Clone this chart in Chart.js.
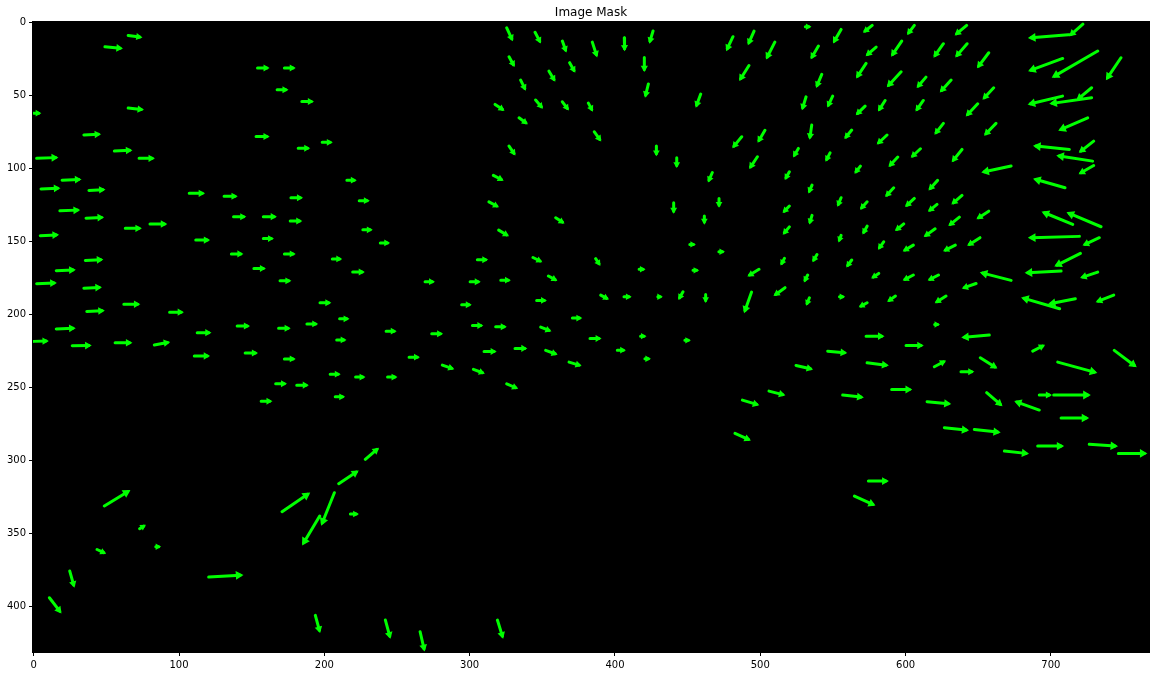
<!DOCTYPE html>
<html>
<head>
<meta charset="utf-8">
<script src="https://cdn.jsdelivr.net/npm/chart.js@4/dist/chart.umd.min.js"></script>
<style>
html,body{margin:0;padding:0;background:#fff;}
#wrap{width:1156px;height:675px;position:relative;}
</style>
</head>
<body>
<div id="wrap"><canvas id="c" width="1156" height="675"></canvas></div>
<script>
// Image size (pixels) and tick labels
const imageWidth = 768;
const imageHeight = 432;
const xTickValues = [0, 100, 200, 300, 400, 500, 600, 700];
const yTickValues = [0, 50, 100, 150, 200, 250, 300, 350, 400];
const chartTitle = 'Image Mask';

// Flow arrows: [tailX, tailY, headX, headY] in image pixel coordinates
const leftArrows = [
  [65,8.7,73,9.8],[49,16.5,59.5,17.5],[154,31,160.5,31],[172.5,31,178.5,31],
  [167.5,46,173.5,46],[184.5,54,191,54],[65,58.5,74,59.5],[0,62,3.5,62],
  [34.5,77,44.5,76.5],[153,78,160.5,78],[198.5,82,204,82],[182,86,188.5,86],
  [55.5,88,66,87.5],[2,93,15,92.5],[72.5,93,81.5,93],[215.5,108,220.5,108],
  [19.5,108,31,107.5],[5,114,16.5,113.5],[38,115,47.5,114.5],[107,117,116,117],
  [131,119,138.5,119],[177,120,183.5,120],[224,122,229.5,122],[18,129,30,128.5],
  [36,134,46.5,133.5],[137.5,133,144.5,133],[158,133,165.5,133],[176.5,136,183,136],
  [63,141,72.5,141],[80,138,90,138],[226.5,142,231.5,142],
  [4.5,146,15.5,145.5],[111.5,149,119.5,149],[158,148,163.5,148],[238.5,151,243.5,151],
  [35.5,163,46,162.5],[136,158.5,142.5,158.5],[172.5,158.5,178.5,158.5],[205.5,162,210.5,162],
  [15.5,170,27,169.5],[151.5,168.5,158,168.5],[219.5,171,226,171],[2,179,14,178.5],
  [34.5,182,45,181.5],[169.5,177,175.5,177],[62,193,71.5,193],[197,192,203,192],
  [93.5,198.5,101.5,198.5],[36.5,198,47,197.5],[210.5,203,215.5,203],[15.5,210,27,209.5],
  [140,208,147,208],[168.5,209.5,175,209.5],[188,206.5,194,206.5],[112.5,212.5,120.5,212.5],
  [242.5,211.5,248,211.5],[0,218.5,8.5,218.3],[26.5,221.5,38,221.3],[56,219.5,66,219.5],
  [83,221,92,219.3],[208.5,217.5,213.5,217.5],[110.5,228.5,119.5,228.5],[145.5,226.5,152.5,226.5],
  [172.5,230.5,178.5,230.5],[204,241,209.5,241],[221.5,243,226.5,243],[243.5,243,248.5,243],
  [166.5,247.5,172.5,247.5],[181,248.5,187.5,248.5],[207.5,256.5,212.5,256.5],[156.5,259.5,162.5,259.5]
];

const topArrows = [
  [325.5,3.5,329,11],[345,6.5,348.2,12.6],[363.8,12.6,366,18.7],[384.4,13.3,387.2,22],
  [406.4,10.3,406.6,17.8],[426.2,5.7,424.1,12.6],[481.2,9.6,477.3,17.8],[495.7,5.7,492.2,13.7],
  [510,13.3,504.8,23.5],[327.1,23.3,330.1,28.8],[368.8,27.4,371.8,32.7],[420.2,23.8,420.2,32],
  [492.2,29.3,486.5,38.4],[354.6,33.2,358,38.9],[335.1,39.3,337.9,45],[423,42,421.1,49.6],
  [459,48.9,456.2,56.5],[317.5,56,322.5,59.4],[345.4,53,349.3,57.6],[363.8,54.2,367.2,58.8],
  [381.7,55.1,384,59.4],[334,65.2,338.6,68.6],[385.8,74.8,389.5,80],[487.2,78.2,481.9,84.6],
  [503.2,73.8,499.1,80.7],[498,91.9,493.4,98.8],[327.1,84.6,330.5,89.6],[428.5,84.6,428.5,89.8],
  [442.5,92.6,442.5,97.9],[467,102.7,464.7,107.9],[316.3,104.7,321.8,107.5],[313.3,122.8,318.6,125.7],
  [440.4,123.5,440.4,129.2],[471.6,120.5,471.6,125.1],[461.5,132.6,461.5,136.7],[359.2,133.7,363.8,136.7],
  [320,142.2,325.5,145.5]
];

const centerArrows = [
  [305.3,162.5,311,162.5],[343.6,161,348.4,163.4],[386.7,161.8,389,165.3],[451.5,152,454,152],
  [471.5,157,474,157],[416.6,169.1,419.3,169.1],[453.7,169.8,456.2,169.8],[499.1,169.1,492.7,173],
  [269.3,177.6,274.3,177.6],[300.3,177.6,305.8,177.6],[321.4,176.5,326.6,176.5],[354.2,173.7,358.8,176.2],
  [390.2,186.8,394.3,189],[406.2,187.9,409.7,187.9],[429.5,187.9,431.2,187.9],[446.8,184.5,444.5,188.6],
  [462.4,186.3,462.4,190.4],[494,184.7,489.5,197.3],[517,181.7,510.6,186.3],[294.5,193.4,299.6,193.4],
  [346.1,190.4,351.4,190.4],[370.7,202.5,375.7,202.5],[301.9,207.6,307.6,207.6],[317.9,208.5,323.7,208.5],
  [348.9,208.7,354.6,211],[273.9,213.3,279.9,213.3],[382.8,216.5,389,216.5],[417.6,214.9,420,214.9],
  [448.1,217.8,450.5,217.8],[258.3,229.3,264,229.3],[309.9,225.4,316.8,225.4],[331.2,223.3,337.9,223.3],
  [352.3,224.7,358.8,227],[401.6,224.5,405.8,224.5],[420.6,230.4,423,230.4],[281.2,234.8,287.7,237],
  [302.6,237.7,308.8,240],[368.4,232.7,375.3,234.8],[325.5,247.6,331.7,250.3],[506,252.6,515.4,255],
  [487.7,258.8,497.5,261.7],[482.6,281.6,491.8,285.7]
];

const rightArrows = [
  [531,2.7,533.5,2.7],[555.6,4.6,551,12.6],[577,1.8,572.1,5.7],[606,1.8,602.1,6.9],
  [642,1.8,635.2,7.5],[722,1,714,8],[714,8,686.3,10.3],[540,16,535.6,23.5],
  [579.7,16.7,573.9,21.7],[597.3,12.6,591.1,21.7],[626,14.4,620.3,22.4],[642.3,14.4,635.4,22.4],
  [657.2,20.6,650.3,29.7],[708.1,24.5,686.3,32.5],[732.2,19.4,702.4,36.6],[748.2,24,739,37.7],
  [572.8,27.9,567,36.6],[596.9,33.6,588.4,42.8],[614,37.3,608.8,43.4],[631.3,39.3,624.8,46.4],
  [542.3,35.4,539.1,43],[660.6,44.6,654.2,51.4],[649.6,55.6,642.7,62.9],[708,50.3,686,55.6],
  [728,51.4,701,55.3],[728,44.6,719,52],[531.5,50.8,529.2,58.3],[549.8,50.3,546.9,56.5],
  [572.1,57.2,567,62.2],[585.9,53.3,582,59.4],[612.2,53.3,607.9,59.4],[725.3,65.2,707,73.2],
  [535.4,70.2,534.2,78.4],[562.9,73.6,559,78.4],[587.2,77,581.5,82.3],[626,69,621,75.4],
  [662.2,69,655.3,76.1],[526.2,86.2,523.5,90.8],[548,89.2,545.7,93.7],[610.2,86.4,604.9,91.4],
  [638.8,86.9,632.9,94.2],[594.6,92.1,589.5,97.6],[672.6,98.3,654.2,102.2],[712.7,86.9,689.8,84.6],
  [728.7,94.9,705.8,91.4],[729.4,97.9,720.7,102.9],[729.4,81.2,720.7,88],[568.9,98.3,565.9,102.2],
  [520,102.2,517.7,106.3],[709.7,113.2,689.8,107.5],[622,108.1,617,113.6],[591.8,113.2,587.2,118.2],
  [535.6,111.3,533.8,115.5],[555.6,120,553.7,124.6],[573.5,122.8,569.8,126.9],[606,120.5,601,125.1],
  [621.6,124.6,616.8,128.5],[638.8,118.4,632.9,123.5],[520,125.7,516.6,129.2],[734.5,139.9,712.7,130.8],
  [715,138.3,695.5,130.3],[657.2,129.2,650.3,133.7],[637,133.3,630.8,138.3],[598.7,137.9,594.1,141.7],
  [573.5,139.5,571.2,143.6],[535.6,132.1,534.2,136.7],[620.3,141.3,614,145.8],[520,140,516.6,144],
  [719.6,146.5,686.3,147.4],[733.3,147.4,723.5,152],[555.6,145.8,554.4,149],[584.9,150.2,582,154.3],
  [605.3,152.5,599.6,155.9],[634.2,152.5,627.4,155.9],[651.2,147.4,643.9,152],[516.6,161.6,514.8,165],
  [539,158.9,536.8,162.7],[562.9,162.7,560.2,166.4],[720.3,158.2,704.2,166.2],[707,170.3,684,171.4],
  [672.6,176.7,653.1,171.7],[732.2,171,721.9,174.4],[532.6,173,530.8,176.5],[581.5,171.9,577.8,174.4],
  [605.3,173,599.6,176],[622.6,173,616.8,176],[648.5,178.8,640.4,181.7],[533.8,188.6,532.2,192.5],
  [554.5,187.9,556.7,187.9],[573.5,192,569.3,194.3],[593,187.4,588.8,190.4],[627.8,187.4,621.6,191.3],
  [743.2,186.8,732.6,190.9],[706,196.1,681.5,189],[716.8,189.3,700.1,192.5],[620,206.9,622,206.9],
  [572.8,214.9,583.6,214.9],[657.6,214.2,640.4,215.6],[600.3,221.3,610.6,221.3],[687.5,225.2,694.3,221.7],
  [546.4,225.2,557.9,226.3],[524.6,235,534.5,237.3],[573.5,233.2,586.5,234.8],[619.8,235.9,626.2,232.5],
  [651.4,229.7,661.5,236.1],[638.1,239.3,645.5,239.3],[704.7,232.7,729.9,239.6],[743.6,224.7,757.4,235],
  [556.7,255.3,569.3,256.7],[590.4,251.5,602.6,251.5],[614.8,259.9,629.4,261.3],[655.8,253.7,665.2,261.7],
  [692,265.6,676.7,260.1],[692,255.3,698.9,255.3],[701.9,255.3,725.3,255.3],[707,271.1,724.2,271.1],
  [626.7,277.7,641.6,279.3],[647.3,278.9,663.4,280.7],[668,293.7,682.9,295.3],[690.9,290.3,707,290.3],
  [726.4,289.1,744.1,290.3],[746.4,295.3,764.3,295.3],[574.4,314.3,586.5,314.3],[564.8,324.6,577.4,330.3]
];

const bottomArrows = [
  [228.2,299.4,236.2,292.6],[48.6,331.4,64.7,321.6],[209.9,316.1,222,308.1],[170.9,335.3,188.5,323.4],
  [196.8,338.3,185.8,356.6],[206.9,322.3,198.6,342.9],[217.9,336.9,222,336.9],[72.9,347,75.7,345.2],
  [84,359.3,86,359.3],[43.6,361.2,48.2,363.4],[120.4,380.1,142.2,378.8],[24.8,376,27.5,385.6],
  [10.8,394.3,17.9,403.5],[193.8,406.4,196.6,416.7],[242,409.6,245,420.6],[265.9,417.6,268.6,429.3],
  [319.1,409.6,322.5,420.6]
];

const allArrows = [].concat(leftArrows, topArrows, centerArrows, rightArrows, bottomArrows);

// Build line data (segments separated by gaps) and head points
const lineData = [];
const headData = [];
allArrows.forEach(a => {
  const dx = a[2] - a[0], dy = a[3] - a[1];
  const len = Math.hypot(dx, dy) || 1;
  const r = 2.0 + Math.min(1.6, len / 12);       // head radius in screen px
  const back = (r * 0.55) / 1.455;                // pull triangle back so its tip sits on the head point
  lineData.push({x: a[0], y: a[1]});
  lineData.push({x: a[2], y: a[3]});
  lineData.push({x: a[2], y: null});
  headData.push({x: a[2] - dx / len * back, y: a[3] - dy / len * back, dx: dx, dy: dy, r: r});
});

const GREEN = '#00ff00';

const framePlugin = {
  id: 'frame',
  beforeDraw(chart) {
    const {ctx, chartArea: ca} = chart;
    ctx.save();
    ctx.fillStyle = '#ffffff';
    ctx.fillRect(0, 0, chart.width, chart.height);
    ctx.fillStyle = '#000000';
    ctx.fillRect(ca.left, ca.top, ca.right - ca.left, ca.bottom - ca.top);
    ctx.restore();
  },
  afterDraw(chart) {
    const {ctx, chartArea: ca} = chart;
    ctx.save();
    ctx.strokeStyle = '#000000';
    ctx.lineWidth = 1;
    ctx.strokeRect(ca.left - 0.5, ca.top - 0.5, ca.right - ca.left + 1, ca.bottom - ca.top + 1);
    ctx.fillStyle = '#000000';
    ctx.font = '12px "DejaVu Sans"';
    ctx.textAlign = 'center';
    ctx.textBaseline = 'alphabetic';
    ctx.fillText(chartTitle, (ca.left + ca.right) / 2, ca.top - 6);
    ctx.restore();
  }
};

new Chart(document.getElementById('c'), {
  type: 'scatter',
  data: {
    datasets: [
      {
        data: lineData,
        showLine: true,
        spanGaps: false,
        borderColor: GREEN,
        borderWidth: 3,
        borderCapStyle: 'round',
        borderJoinStyle: 'round',
        pointRadius: 0,
        pointHoverRadius: 0,
        fill: false
      },
      {
        data: headData,
        showLine: false,
        pointStyle: 'triangle',
        backgroundColor: GREEN,
        borderColor: GREEN,
        borderWidth: 1.5,
        pointRadius: (ctx) => (ctx.raw ? ctx.raw.r : 2.5),
        pointRotation: (ctx) => {
          const p = ctx.raw;
          if (!p) return 0;
          return Math.atan2(p.dx, -p.dy) * 180 / Math.PI;
        }
      }
    ]
  },
  options: {
    responsive: false,
    animation: false,
    events: [],
    layout: {padding: {top: 22, right: 7, left: 0, bottom: 0}},
    plugins: {legend: {display: false}, tooltip: {enabled: false}, title: {display: false}},
    scales: {
      x: {
        type: 'linear',
        min: -0.5,
        max: imageWidth - 0.5,
        afterBuildTicks: (s) => { s.ticks = xTickValues.map(v => ({value: v})); },
        afterFit: (s) => { s.height = 23; },
        grid: {display: true, drawOnChartArea: false, drawTicks: true, tickLength: 4, color: '#000', tickWidth: 1},
        border: {display: true, color: '#000'},
        ticks: {autoSkip: false, maxRotation: 0, padding: 3, color: '#000', font: {family: 'DejaVu Sans', size: 10}}
      },
      y: {
        type: 'linear',
        reverse: true,
        min: -0.5,
        max: imageHeight - 0.5,
        afterBuildTicks: (s) => { s.ticks = yTickValues.map(v => ({value: v})); },
        afterFit: (s) => { s.width = 33; },
        grid: {display: true, drawOnChartArea: false, drawTicks: true, tickLength: 4, color: '#000', tickWidth: 1},
        border: {display: true, color: '#000'},
        ticks: {autoSkip: false, padding: 3, color: '#000', font: {family: 'DejaVu Sans', size: 10}}
      }
    }
  },
  plugins: [framePlugin]
});
</script>
</body>
</html>
